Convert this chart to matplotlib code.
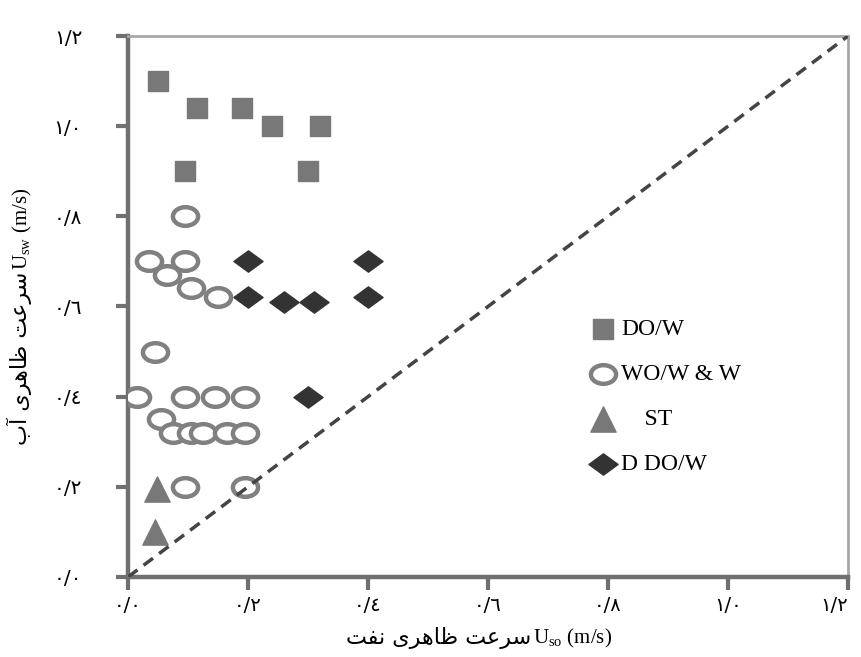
import matplotlib
matplotlib.use("Agg")
import matplotlib.pyplot as plt
from matplotlib.markers import MarkerStyle
from matplotlib.transforms import Affine2D

plt.rcParams['font.family'] = ['Liberation Serif', 'DejaVu Sans']
plt.rcParams['mathtext.fontset'] = 'custom'
plt.rcParams['mathtext.rm'] = 'Liberation Serif'
plt.rcParams['mathtext.it'] = 'Liberation Serif:italic'

# superficial oil velocity (x) and water velocity (y), m/s
dow_x = [0.05, 0.115, 0.19, 0.24, 0.32, 0.095, 0.30]
dow_y = [1.10, 1.04, 1.04, 1.00, 1.00, 0.90, 0.90]

wow_x = [0.095, 0.035, 0.095, 0.065, 0.105, 0.15, 0.045, 0.015, 0.095, 0.145,
         0.195, 0.055, 0.075, 0.105, 0.125, 0.165, 0.195, 0.095, 0.195]
wow_y = [0.80, 0.70, 0.70, 0.67, 0.64, 0.62, 0.50, 0.40, 0.40, 0.40,
         0.40, 0.35, 0.32, 0.32, 0.32, 0.32, 0.32, 0.20, 0.20]

st_x = [0.048, 0.045]
st_y = [0.195, 0.10]

ddow_x = [0.20, 0.40, 0.20, 0.26, 0.31, 0.40, 0.30]
ddow_y = [0.70, 0.70, 0.62, 0.61, 0.61, 0.62, 0.40]

ticks = [0.0, 0.2, 0.4, 0.6, 0.8, 1.0, 1.2]
tick_labels = ['٠/٠', '٠/٢', '٠/٤', '٠/٦', '٠/٨', '١/٠', '١/٢']

# Persian labels written in presentation forms, visual (left to right) order
# x: "سرعت ظاهری نفت"   y: "سرعت ظاهری آب"
w_sorat = '\uFE96\uFECB\uFEAE\uFEB3'
w_zaheri = '\uFEEF\uFEAE\uFEEB\uFE8E\uFEC7'
w_naft = '\uFE96\uFED4\uFEE7'
w_ab = '\uFE8F\uFE81'
xlab_fa = w_naft + ' ' + w_zaheri + ' ' + w_sorat
ylab_fa = w_ab + ' ' + w_zaheri + ' ' + w_sorat

fig = plt.figure(figsize=(8.62, 6.57), dpi=100)
ax = fig.add_axes([0.1485, 0.1218, 0.8353, 0.8234])

ring = MarkerStyle('o', transform=Affine2D().scale(1.35, 1.0))
flat_d = MarkerStyle('D', transform=Affine2D().scale(1.3, 0.95))

ax.scatter(dow_x, dow_y, marker='s', s=190, color='#787878', label='DO/W', zorder=3)
ax.scatter(wow_x, wow_y, marker=ring, s=180, facecolor='white', edgecolor='#808080',
           linewidths=3.2, label='WO/W & W', zorder=3)
ax.scatter(st_x, st_y, marker='^', s=330, color='#787878', label='    ST', zorder=3)
ax.scatter(ddow_x, ddow_y, marker=flat_d, s=130, color='#333333', label='D DO/W', zorder=3)

ax.plot([0, 1.2], [0, 1.2], color='#444444', lw=2.5, ls=(0, (3.4, 2.2)), zorder=4)

ax.set_xlim(0, 1.2)
ax.set_ylim(0, 1.2)
ax.set_xticks(ticks)
ax.set_xticklabels(tick_labels, family='DejaVu Sans', fontsize=14)
ax.set_yticks(ticks)
ax.set_yticklabels(tick_labels, family='DejaVu Sans', fontsize=14.5)
ax.tick_params(axis='both', direction='out', length=9, width=3, colors='#707070',
               labelcolor='black')
ax.tick_params(axis='y', pad=24)
ax.tick_params(axis='x', pad=5)

# right-align the last x label so it stays inside the figure
ax.get_xticklabels()[-1].set_ha('right')
ax.get_xticklabels()[-1].set_x(1.2)

for side in ['left', 'bottom']:
    ax.spines[side].set_color('#707070')
    ax.spines[side].set_linewidth(3.2)
for side in ['top', 'right']:
    ax.spines[side].set_color('#a8a8a8')
    ax.spines[side].set_linewidth(2)

ax.legend(loc='upper left', bbox_to_anchor=(0.644, 0.478), frameon=False,
          fontsize=17, handlelength=0.95, handletextpad=0.3, labelspacing=1.0,
          borderpad=0, borderaxespad=0, scatterpoints=1)

# axis titles: Persian part + latin symbol part
fig.text(531 / 862, 0.02, xlab_fa, family='DejaVu Sans', fontsize=16,
         ha='right', va='baseline')
fig.text(533 / 862, 0.02, r'U$_{\mathrm{so}}$ (m/s)', fontsize=15,
         ha='left', va='baseline')
fig.text(27 / 862, 1 - 272 / 657, ylab_fa, family='DejaVu Sans', fontsize=16,
         rotation=90, rotation_mode='anchor', ha='right', va='baseline')
fig.text(27 / 862, 1 - 270 / 657, r'U$_{\mathrm{sw}}$ (m/s)', fontsize=15,
         rotation=90, rotation_mode='anchor', ha='left', va='baseline')

fig.savefig('out.png', dpi=100)
